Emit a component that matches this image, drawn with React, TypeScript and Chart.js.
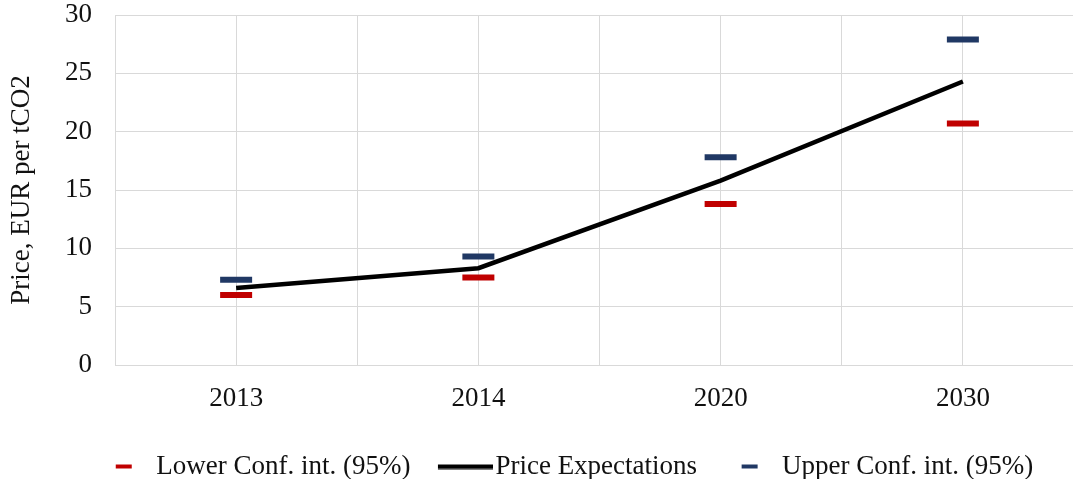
import React, { useEffect, useRef } from 'react';
import { Chart, registerables } from 'chart.js';

Chart.register(...registerables);

const categories = ['2013', '2014', '2020', '2030'];
const lowerConf = [6.0, 7.5, 13.8, 20.7];
const priceExpectations = [6.6, 8.3, 15.8, 24.3];
const upperConf = [7.3, 9.3, 17.8, 27.9];
const yTickValues = [0, 5, 10, 15, 20, 25, 30];
const seriesNames = ['Lower Conf. int. (95%)', 'Price Expectations', 'Upper Conf. int. (95%)'];

const FONT = "'Liberation Serif', 'Times New Roman', serif";
const RED = '#C00000';
const NAVY = '#203864';
const GRID = '#d9d9d9';
const TEXT = '#111111';
const CW = 1120;
const CH = 479;
const LEGEND_PAD = 27.5;
const LEGEND_TOP = 425.5;

function legendImage(kind: string): HTMLCanvasElement {
  const c = document.createElement('canvas');
  c.width = 66;
  c.height = 6;
  const ctx = c.getContext('2d')!;
  if (kind === 'line') {
    ctx.fillStyle = '#000000';
    ctx.fillRect(11, 1, 55, 4.5);
  } else {
    ctx.fillStyle = kind === 'red' ? RED : NAVY;
    ctx.fillRect(28, 1, 16, 4);
  }
  return c;
}

const toPoints = (arr: number[]) => arr.map((v, i) => ({ x: i, y: v }));

export default function App() {
  const ref = useRef<HTMLCanvasElement | null>(null);

  useEffect(() => {
    if (!ref.current) return;
    const images = [legendImage('red'), legendImage('line'), legendImage('navy')];

    const legendPlacer = {
      id: 'legendPlacer',
      afterLayout(chart: any) {
        const lg = chart.legend;
        if (!lg) return;
        const h = lg.height;
        lg.left = 0;
        lg.right = 1132;
        lg.width = 1132;
        lg.top = LEGEND_TOP;
        lg.bottom = LEGEND_TOP + h;
      },
    };

    const chart = new Chart(ref.current, {
      type: 'line',
      data: {
        datasets: [
          {
            label: seriesNames[0],
            data: toPoints(lowerConf),
            showLine: false,
            pointStyle: 'line',
            pointRadius: 16,
            pointHoverRadius: 16,
            pointBorderWidth: 6,
            borderColor: RED,
            backgroundColor: RED,
            borderWidth: 6,
          },
          {
            label: seriesNames[1],
            data: toPoints(priceExpectations),
            borderColor: '#000000',
            backgroundColor: '#000000',
            borderWidth: 4.5,
            pointRadius: 0,
            tension: 0,
          },
          {
            label: seriesNames[2],
            data: toPoints(upperConf),
            showLine: false,
            pointStyle: 'line',
            pointRadius: 16,
            pointHoverRadius: 16,
            pointBorderWidth: 6,
            borderColor: NAVY,
            backgroundColor: NAVY,
            borderWidth: 6,
          },
        ],
      },
      options: {
        responsive: false,
        animation: false,
        layout: { autoPadding: false, padding: { top: 15, right: 36, left: 0, bottom: 0 } },
        plugins: {
          tooltip: { enabled: false },
          legend: {
            position: 'bottom',
            labels: {
              usePointStyle: true,
              pointStyleWidth: 44,
              padding: LEGEND_PAD,
              color: TEXT,
              font: { family: FONT, size: 27 },
              sort: (a: any, b: any) => a.datasetIndex - b.datasetIndex,
              generateLabels: (c: any) => {
                const items = (Chart.defaults.plugins.legend.labels as any).generateLabels(c);
                items.forEach((it: any) => {
                  it.pointStyle = images[it.datasetIndex];
                });
                return items;
              },
            },
          },
        },
        scales: {
          x: {
            type: 'linear',
            min: -0.5,
            max: 3.5,
            afterBuildTicks: (scale: any) => {
              const t = [];
              for (let v = -0.5; v <= 3.5001; v += 0.5) t.push({ value: v });
              scale.ticks = t;
            },
            afterFit: (scale: any) => {
              scale.height = 49.5;
            },
            ticks: {
              autoSkip: false,
              maxRotation: 0,
              padding: 18,
              color: TEXT,
              font: { family: FONT, size: 27 },
              callback: (v: any) => {
                const n = Number(v);
                return Number.isInteger(n) && n >= 0 && n < categories.length ? categories[n] : '';
              },
            },
            grid: { color: GRID, lineWidth: 1, drawTicks: false },
            border: { color: GRID, width: 1 },
          },
          y: {
            min: 0,
            max: 30,
            afterBuildTicks: (scale: any) => {
              scale.ticks = yTickValues.map((v) => ({ value: v }));
            },
            afterFit: (scale: any) => {
              scale.width = 115;
              scale.paddingTop = 0;
              scale.paddingBottom = 0;
            },
            ticks: {
              padding: 23,
              color: TEXT,
              font: { family: FONT, size: 27 },
            },
            grid: { color: GRID, lineWidth: 1, drawTicks: false },
            border: { color: GRID, width: 1 },
            title: {
              display: true,
              text: 'Price, EUR per tCO2',
              color: TEXT,
              font: { family: FONT, size: 27 },
              padding: { top: 6, bottom: 0 },
            },
          },
        },
      },
      plugins: [legendPlacer],
    } as any);

    return () => chart.destroy();
  }, []);

  return (
    <div
      style={{
        position: 'fixed',
        left: 0,
        top: 0,
        width: 1073,
        height: 479,
        overflow: 'hidden',
        background: '#ffffff',
      }}
    >
      <canvas ref={ref} width={CW} height={CH} style={{ display: 'block', width: CW, height: CH }} />
    </div>
  );
}
